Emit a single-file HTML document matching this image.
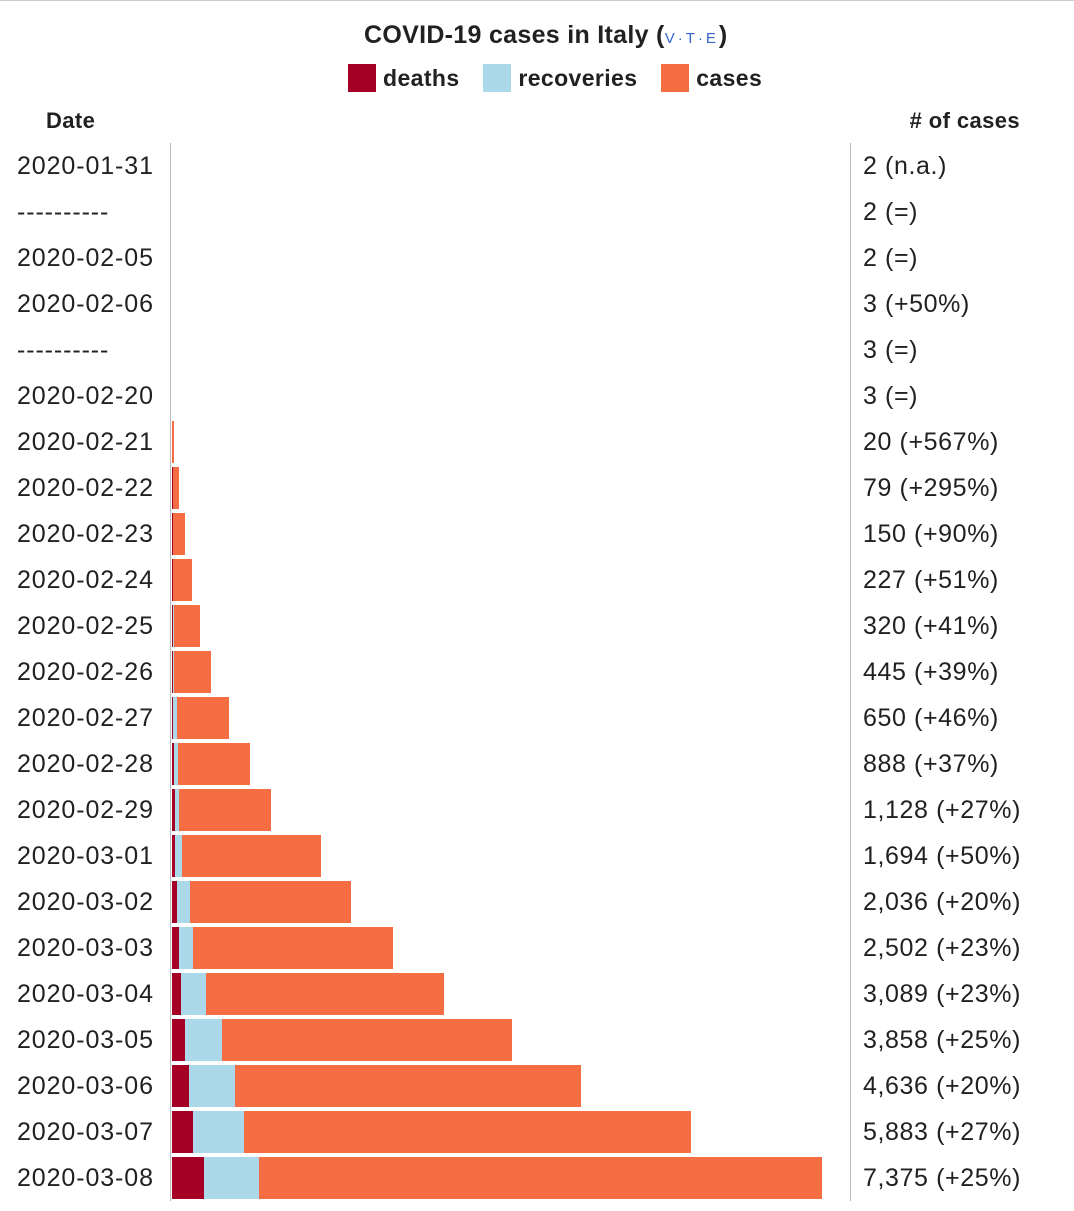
<!DOCTYPE html>
<html><head><meta charset="utf-8"><style>
body{margin:0;width:1074px;height:1211px;background:#fff;font-family:"Liberation Sans",sans-serif;color:#202122;position:relative;overflow:hidden}
.t{position:absolute;white-space:nowrap}
</style></head><body>
<div style="position:absolute;left:0;top:0;width:1074px;height:1px;background:#c8ccd1"></div>
<div class="t" style="left:364px;top:21px;font-size:25px;font-weight:bold;letter-spacing:0.3px">COVID-19 cases in Italy (<span style="font-size:15px;color:#3366cc;font-weight:normal;letter-spacing:3px">V·T·E</span>)</div>
<div class="t" style="left:348px;top:64px;font-size:23px;font-weight:bold;letter-spacing:0.4px">
<span><span style="display:inline-block;width:28px;height:28px;background:#a50026;vertical-align:-6px;margin-right:7px"></span>deaths</span>
<span style="margin-left:17px"><span style="display:inline-block;width:28px;height:28px;background:#abd9e9;vertical-align:-6px;margin-right:7px"></span>recoveries</span>
<span style="margin-left:17px"><span style="display:inline-block;width:28px;height:28px;background:#f46d43;vertical-align:-6px;margin-right:7px"></span>cases</span>
</div>
<div class="t" style="left:46px;top:108px;font-size:22px;font-weight:bold;letter-spacing:0.4px">Date</div>
<div class="t" style="right:54px;top:108px;font-size:22px;font-weight:bold;letter-spacing:0.4px"># of cases</div>
<div style="position:absolute;left:170px;top:143px;width:1px;height:1058px;background:#bbb"></div>
<div style="position:absolute;left:850px;top:143px;width:1px;height:1058px;background:#bbb"></div>
<div id="rows"></div>
<script>
const dates=["2020-01-31","----------","2020-02-05","2020-02-06","----------","2020-02-20","2020-02-21","2020-02-22","2020-02-23","2020-02-24","2020-02-25","2020-02-26","2020-02-27","2020-02-28","2020-02-29","2020-03-01","2020-03-02","2020-03-03","2020-03-04","2020-03-05","2020-03-06","2020-03-07","2020-03-08"];
const cases=[2,2,2,3,3,3,20,79,150,227,320,445,650,888,1128,1694,2036,2502,3089,3858,4636,5883,7375];
const deaths=[0,0,0,0,0,0,0,2,3,7,10,12,17,21,29,34,52,79,107,148,197,233,366];
const recoveries=[0,0,0,0,0,0,0,0,0,0,1,3,45,46,50,83,149,160,276,414,523,589,622];
const changes=["n.a.","=","=","+50%","=","=","+567%","+295%","+90%","+51%","+41%","+39%","+46%","+37%","+27%","+50%","+20%","+23%","+23%","+25%","+20%","+27%","+25%"];
const x0=172,maxPx=650,maxV=7375,y0=143,rowH=46;
const sx=v=>v*maxPx/maxV;
const root=document.getElementById('rows');
function box(l,t,w,h,c){const d=document.createElement('div');d.style.cssText=`position:absolute;left:${l}px;top:${t}px;width:${w}px;height:${h}px;background:${c}`;return d;}
dates.forEach((d,i)=>{
 const top=y0+i*rowH;
 const lab=document.createElement('div');lab.className='t';
 
 
 lab.style.cssText=`left:17px;top:${top+9}px;font-size:25px;letter-spacing:0.9px`;lab.textContent=d;root.appendChild(lab);
 const dw=sx(deaths[i]),rw=sx(recoveries[i]),cw=sx(cases[i]);
 if(cases[i]>3){
  const bc=box(x0,top+2,cw,42,'#f46d43');
  
  
  root.appendChild(bc);
  const br=box(x0+dw,top+2,rw,42,'#abd9e9');
  
  
  root.appendChild(br);
  const bd=box(x0,top+2,dw,42,'#a50026');
  
  
  root.appendChild(bd);
 }
 const v=document.createElement('div');v.className='t';
 
 
 v.style.cssText=`left:863px;top:${top+9}px;font-size:25px;letter-spacing:0.6px`;
 v.textContent=cases[i].toLocaleString('en-US')+' ('+changes[i]+')';root.appendChild(v);
});
</script>
</body></html>
